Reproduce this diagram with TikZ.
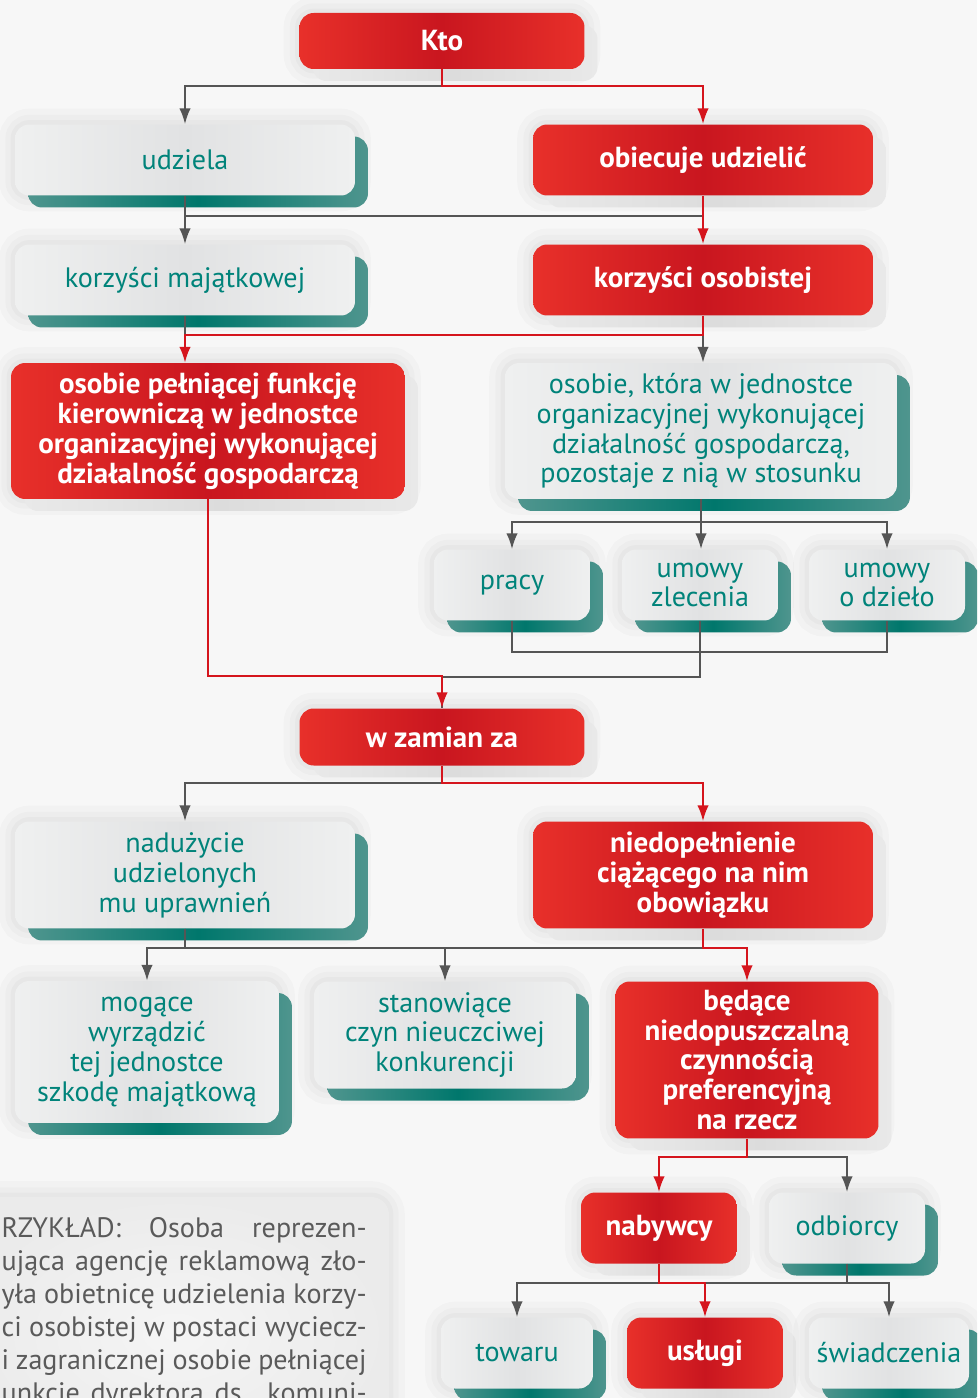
\documentclass[tikz,border=0pt]{standalone}
\usepackage{fontspec}
\setmainfont{PT Sans}
\usetikzlibrary{arrows.meta,shadows}

\definecolor{kred}{HTML}{E8302A}
\definecolor{kreddark}{HTML}{C9161F}
\definecolor{kteal}{HTML}{00776C}
\definecolor{ktealpale}{HTML}{4F958E}
\definecolor{kgray}{HTML}{E1E2E3}
\definecolor{kgraypale}{HTML}{EFF0F0}
\definecolor{kshade}{HTML}{DCDCDC}
\definecolor{kshadepale}{HTML}{E9E9E9}
\definecolor{ktext}{HTML}{00837A}
\definecolor{kline}{HTML}{555555}
\definecolor{klred}{HTML}{D5151D}
\definecolor{kbg}{HTML}{F7F7F7}
\definecolor{kexfill}{HTML}{EBEBEB}
\definecolor{kextext}{HTML}{5A5A5A}

\tikzset{
  halo/.style={preaction={draw=black, draw opacity=0.018, line width=18pt},
    preaction={draw=black, draw opacity=0.02, line width=11pt},
    preaction={draw=black, draw opacity=0.025, line width=5pt}},
  box/.style={rounded corners=8pt, inner sep=2pt, align=center,
    font=\fontsize{16}{17}\selectfont},
  redbox/.style={box, halo, left color=kred, right color=kred, middle color=kreddark,
    text=white, font=\fontsize{16.5}{17}\selectfont\bfseries,
    general shadow={shadow xshift=0.26cm, shadow yshift=-0.24cm,
      left color=kshadepale, right color=kshadepale, middle color=kshade}},
  graybox/.style={box, halo, left color=kgraypale, right color=kgraypale, middle color=kgray,
    text=ktext,
    general shadow={shadow xshift=0.26cm, shadow yshift=-0.24cm,
      left color=ktealpale, right color=ktealpale, middle color=kteal}},
  gline/.style={draw=kline, line width=1.1pt},
  rline/.style={draw=klred, line width=1.1pt},
  tip/.style={-{Latex[length=9pt,width=6.5pt]}},
}

\begin{document}
\begin{tikzpicture}[x=0.02cm, y=-0.02cm]
  \useasboundingbox (0,0) rectangle (977,1398);
  \clip (0,0) rectangle (977,1398);
  \fill[kbg] (0,0) rectangle (977,1398);

  % top part
  \node[redbox, minimum width=5.7cm, minimum height=1.12cm] (kto) at (442,41) {Kto};
  \node[graybox, minimum width=6.8cm, minimum height=1.42cm] (udz) at (185,160) {udziela};
  \node[redbox, minimum width=6.8cm, minimum height=1.42cm] (obi) at (703,160) {obiecuje udzielić};
  \node[graybox, minimum width=6.8cm, minimum height=1.42cm] (kmaj) at (185,280) {korzyści majątkowej};
  \node[redbox, minimum width=6.8cm, minimum height=1.42cm] (kos) at (703,280) {korzyści osobistej};
  \node[redbox, minimum width=7.88cm, minimum height=2.72cm] (opk) at (208,431)
    {osobie pełniącej funkcję\\kierowniczą w jednostce\\organizacyjnej wykonującej\\działalność gospodarczą};
  \node[graybox, minimum width=7.84cm, minimum height=2.72cm] (okt) at (701,431)
    {osobie, która w jednostce\\organizacyjnej wykonującej\\działalność gospodarczą,\\pozostaje z nią w stosunku};
  \node[graybox, minimum width=3.12cm, minimum height=1.42cm] (pra) at (512,585) {pracy};
  \node[graybox, minimum width=3.12cm, minimum height=1.42cm] (zle) at (700,585) {umowy\\zlecenia};
  \node[graybox, minimum width=3.12cm, minimum height=1.42cm] (dzi) at (887,585) {umowy\\o dzieło};

  % bottom part
  \node[redbox, minimum width=5.7cm, minimum height=1.14cm] (wz) at (442,737) {w zamian za};
  \node[graybox, minimum width=6.8cm, minimum height=2.14cm] (nad) at (185,875)
    {nadużycie\\udzielonych\\mu uprawnień};
  \node[redbox, minimum width=6.8cm, minimum height=2.14cm] (nie) at (703,875)
    {niedopełnienie\\ciążącego na nim\\obowiązku};
  \node[graybox, minimum width=5.28cm, minimum height=2.84cm] (mog) at (147,1052)
    {mogące\\wyrządzić\\tej jednostce\\szkodę majątkową};
  \node[graybox, minimum width=5.24cm, minimum height=2.14cm] (sta) at (445,1035)
    {stanowiące\\czyn nieuczciwej\\konkurencji};
  \node[redbox, minimum width=5.26cm, minimum height=3.14cm] (bed) at (747,1060)
    {będące\\niedopuszczalną\\czynnością\\preferencyjną\\na rzecz};
  \node[redbox, minimum width=3.12cm, minimum height=1.42cm] (nab) at (659,1228) {nabywcy};
  \node[graybox, minimum width=3.12cm, minimum height=1.42cm] (odb) at (847,1228) {odbiorcy};
  \node[graybox, minimum width=3.04cm, minimum height=1.42cm] (tow) at (517,1353) {towaru};
  \node[redbox, minimum width=3.12cm, minimum height=1.42cm] (usl) at (705,1353) {usługi};
  \node[graybox, minimum width=3.2cm, minimum height=1.42cm] (swi) at (889,1353) {świadczenia};

  % example box
  \draw[rounded corners=10pt, draw=none, inner color=white!50!kexfill, outer color=kexfill, halo]
    (-40,1197) rectangle (389,1470);
  \node[anchor=north east, inner sep=0pt, align=left, text=kextext,
    font=\fontsize{16}{18.8}\selectfont] (przyklad) at (367,1217)
    {\makebox[7.3cm][s]{RZYKŁAD:  Osoba  reprezen-}\\
     \makebox[7.3cm][s]{ująca agencję reklamową zło-}\\
     \makebox[7.3cm][s]{yła obietnicę udzielenia korzy-}\\
     \makebox[7.3cm][s]{ci osobistej w postaci wyciecz-}\\
     \makebox[7.3cm][s]{i zagranicznej osobie pełniącej}\\
     \makebox[7.3cm][s]{unkcję dyrektora ds. komuni-}};

  % gray connectors
  \draw[gline, tip] (kto.south) -- ++(0,17) -| (udz.north);
  \draw[gline] (udz.south) -- ++(0,20) -| (obi.south);
  \draw[gline, tip] (udz.south) -- (kmaj.north);
  \draw[gline] (kmaj.south) -- ++(0,19);
  \draw[gline, tip] (kos.south) -- (kos.south |- okt.north);
  \draw[gline, tip] (okt.south) -- ++(0,23) -| (pra.north);
  \draw[gline, tip] (okt.south) -- (okt.south |- zle.north);
  \draw[gline, tip] (okt.south) -- ++(0,23) -| (dzi.north);
  \draw[gline] (pra.south) -- ++(0,31) -| (dzi.south);
  \draw[gline] (zle.south) -- ++(0,56) -| (wz.north);
  \draw[gline, tip] (wz.south) -- ++(0,17) -| (nad.north);
  \draw[gline, tip] (nad.south) -- ++(0,19) -| (mog.north);
  \draw[gline, tip] (nad.south) -- ++(0,19) -| (sta.north);
  \draw[gline] (nad.south) -- ++(0,19) -| (nie.south);
  \draw[gline, tip] (bed.south) -- ++(0,18) -| (odb.north);
  \draw[gline, tip] (odb.south) -- ++(0,19) -| (tow.north);
  \draw[gline, tip] (odb.south) -- ++(0,19) -| (swi.north);

  % red connectors
  \draw[rline, tip] (kto.south) -- ++(0,17) -| (obi.north);
  \draw[rline, tip] (obi.south) -- (kos.north);
  \draw[rline, tip] (kos.south) -- ++(0,19) -| (kmaj.south |- opk.north);
  \draw[rline, tip] (opk.south) -- ++(0,177) -| (wz.north);
  \draw[rline, tip] (wz.south) -- ++(0,17) -| (nie.north);
  \draw[rline, tip] (nie.south) -- ++(0,19) -| (bed.north);
  \draw[rline, tip] (bed.south) -- ++(0,18) -| (nab.north);
  \draw[rline, tip] (nab.south) -- ++(0,19) -| (usl.north);

\end{tikzpicture}
\end{document}
